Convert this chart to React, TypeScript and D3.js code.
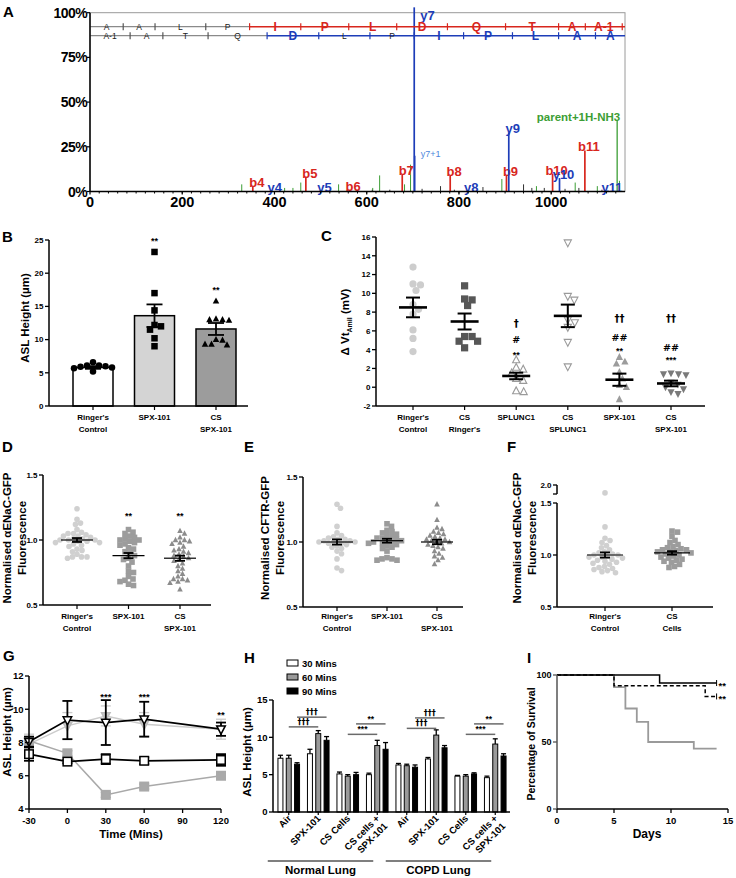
import React from "react";
import * as d3 from "d3";

const FONT = "'Liberation Sans', Arial, Helvetica, sans-serif";
const SYMFONT = "'DejaVu Sans', 'Liberation Sans', sans-serif";
const RED = "#d8261d";
const BLUE = "#1d3db8";
const GREEN = "#3c9e35";
const LBLUE = "#4d88dc";

// ---------------- Panel A data ----------------
const aXTicks = [0, 200, 400, 600, 800, 1000];
const aYTicks = [0, 25, 50, 75, 100];
const aBLabels = ["b4", "b5", "b6", "b7", "b8", "b9", "b10", "b11"];
const aBMz = [353, 468, 562, 677, 781, 903, 1003, 1073];
const aBInt = [3, 8.3, 1, 9.8, 9.2, 9.2, 10, 23];
const aYLabels = ["y4", "y5", "y7", "y8", "y9", "y10", "y11"];
const aYMz = [392, 500, 703, 818, 908, 1018, 1123];
const aYInt = [0.5, 0.5, 103, 0.5, 33, 7.5, 0.5];
const aNoteLabels = ["y7+1"];
const aNoteMz = [704];
const aNoteInt = [20];
const aParentLabels = ["parent+1H-NH3"];
const aParentMz = [1143];
const aParentInt = [40];
const aGreenMz = [329, 422, 440, 457, 539, 613, 628, 682, 695, 893, 968, 1052, 1100, 1148];
const aGreenInt = [4, 2, 2, 5, 4, 2, 9, 4, 15, 7, 3, 5, 3, 6];
const aDarkMz = [612, 650, 720, 760, 790, 852, 940, 958, 985, 1030, 1060, 1110];
const aDarkInt = [1, 1, 1.5, 3, 1, 2.5, 4, 2, 2, 1.5, 2, 1];
const aSeqTop = ["A", "A", "L", "P", "I", "P", "L", "D", "Q", "T", "A", "A-1"];
const aSeqTopBreaks = [72, 141, 251, 346, 457, 561, 665, 775, 901, 1016, 1074, 1154];
const aSeqTopMatched = [0, 0, 0, 0, 1, 1, 1, 1, 1, 1, 1, 1];
const aSeqBot = ["A-1", "A", "T", "Q", "D", "L", "P", "I", "P", "L", "A", "A"];
const aSeqBotBreaks = [87, 158, 256, 384, 496, 607, 703, 810, 916, 1016, 1096];
const aSeqBotMatched = [0, 0, 0, 0, 1, 0, 0, 1, 1, 1, 1, 1];

// ---------------- Panel B data ----------------
const bCats = ["Ringer's\nControl", "SPX-101", "CS\nSPX-101"];
const bMeans = [5.8, 13.6, 11.6];
const bSem = [0.2, 1.7, 0.9];
const bRinger = [6.6, 6.1, 6.0, 5.9, 5.8, 5.7, 5.2, 6.1];
const bSpx = [23.2, 17.0, 14.4, 12.0, 12.2, 11.5, 10.2, 9.0];
const bCsSpx = [15.8, 13.0, 13.1, 12.9, 13.0, 10.0, 9.3, 9.2, 9.3, 9.9];
const bYTicks = [0, 5, 10, 15, 20, 25];
const bStars = ["", "**", "**"];

// ---------------- Panel C data ----------------
const cCats = ["Ringer's\nControl", "CS\nRinger's", "SPLUNC1", "CS\nSPLUNC1", "SPX-101", "CS\nSPX-101"];
const cRinger = [12.8, 11.0, 10.9, 10.3, 8.8, 8.3, 7.8, 6.1, 5.2, 3.8];
const cCsRinger = [10.8, 9.4, 9.3, 8.7, 5.4, 5.4, 4.9, 4.9, 4.2];
const cSplunc = [2.9, 2.1, 1.9, 1.5, 0.9, 0.7, -0.4, -0.5];
const cCsSplunc = [15.4, 9.7, 9.3, 7.2, 6.9, 6.4, 4.8, 2.2];
const cSpx = [3.2, 2.7, 2.5, 1.6, 0.9, 0.2, 0.0, -1.3];
const cCsSpx = [1.5, 1.4, 1.4, 1.3, 0.5, 0.3, 0.0, -0.2, -0.5, -0.7];
const cMeans = [8.5, 7.0, 1.2, 7.6, 0.8, 0.4];
const cSem = [1.05, 0.85, 0.35, 1.2, 0.65, 0.3];
const cYTicks = [-2, 0, 2, 4, 6, 8, 10, 12, 14, 16];

// ---------------- Panels D/E/F data ----------------
const dCats = ["Ringer's\nControl", "SPX-101", "CS\nSPX-101"];
const dRinger = [1.24, 1.16, 1.13, 1.12, 1.08, 1.06, 1.05, 1.05, 1.04, 1.03, 1.03, 1.02, 1.01, 1.01, 1.0, 1.0, 1.0, 0.99, 0.99, 0.98, 0.98, 0.97, 0.96, 0.95, 0.93, 0.92, 0.91, 0.89, 0.87, 0.87, 0.87, 0.86];
const dSpx = [1.08, 1.06, 1.05, 1.03, 1.02, 1.01, 1.0, 1.0, 0.99, 0.98, 0.97, 0.96, 0.94, 0.93, 0.91, 0.9, 0.88, 0.86, 0.85, 0.83, 0.8, 0.76, 0.75, 0.72, 0.7, 0.69, 0.68, 0.66, 0.65];
const dCsSpx = [1.07, 1.05, 1.02, 1.0, 1.0, 0.99, 0.98, 0.97, 0.95, 0.93, 0.92, 0.91, 0.9, 0.89, 0.88, 0.87, 0.86, 0.85, 0.84, 0.82, 0.8, 0.78, 0.76, 0.74, 0.72, 0.7, 0.7, 0.69, 0.68, 0.67, 0.62];
const dMeans = [1.0, 0.88, 0.86];
const dSem = [0.015, 0.02, 0.02];
const dStars = ["", "**", "**"];

const eCats = ["Ringer's\nControl", "SPX-101", "CS\nSPX-101"];
const eRinger = [1.29, 1.26, 1.12, 1.07, 1.05, 1.04, 1.03, 1.02, 1.02, 1.01, 1.01, 1.0, 1.0, 1.0, 0.99, 0.99, 0.98, 0.97, 0.96, 0.95, 0.93, 0.91, 0.87, 0.8, 0.78];
const eSpx = [1.14, 1.12, 1.09, 1.08, 1.07, 1.06, 1.05, 1.04, 1.03, 1.03, 1.02, 1.01, 1.01, 1.0, 1.0, 0.99, 0.99, 0.98, 0.97, 0.96, 0.95, 0.93, 0.88, 0.87, 0.87, 0.86, 0.86];
const eCsSpx = [1.29, 1.17, 1.11, 1.1, 1.08, 1.07, 1.06, 1.05, 1.04, 1.03, 1.02, 1.02, 1.01, 1.0, 1.0, 0.99, 0.98, 0.97, 0.96, 0.95, 0.93, 0.91, 0.89, 0.88, 0.86, 0.83];
const eMeans = [1.0, 1.01, 1.0];
const eSem = [0.02, 0.015, 0.017];

const fCats = ["Ringer's\nControl", "CS\nCells"];
const fRinger = [1.65, 1.27, 1.16, 1.14, 1.12, 1.09, 1.07, 1.05, 1.03, 1.02, 1.01, 1.0, 1.0, 0.99, 0.98, 0.98, 0.97, 0.96, 0.95, 0.94, 0.93, 0.92, 0.91, 0.89, 0.88, 0.87, 0.86, 0.85, 0.84, 0.83];
const fCsCells = [1.23, 1.22, 1.18, 1.14, 1.12, 1.1, 1.08, 1.07, 1.06, 1.05, 1.05, 1.04, 1.03, 1.03, 1.02, 1.01, 1.0, 0.99, 0.98, 0.97, 0.96, 0.95, 0.94, 0.93, 0.91, 0.89, 0.88];
const fMeans = [1.0, 1.02];
const fSem = [0.025, 0.017];
const dYTicks = [0.5, 1.0, 1.5];

// ---------------- Panel G data ----------------
const gTimes = [-30, 0, 30, 60, 120];
const gXTicks = [-30, 0, 30, 60, 90, 120];
const gYTicks = [4, 6, 8, 10, 12];
const gSpxMean = [8.05, 9.35, 9.2, 9.4, 8.8];
const gSpxErr = [0.3, 1.15, 1.35, 1.05, 0.4];
const gCtrlMean = [7.3, 6.85, 7.0, 6.9, 6.95];
const gCtrlErr = [0.4, 0.1, 0.3, 0.2, 0.35];
const gCsSpxMean = [7.9, 9.0, 9.6, 9.1, 8.8];
const gCsSpxErr = [0.6, 0.8, 0.6, 0.7, 0.6];
const gCsMean = [8.1, 7.35, 4.85, 5.35, 6.0];
const gCsErr = [0.2, 0.15, 0.15, 0.15, 0.15];
const gStarTimes = [30, 60, 120];
const gStars = ["***", "***", "**"];

// ---------------- Panel H data ----------------
const hGroups = ["Air", "SPX-101", "CS Cells", "CS cells +\nSPX-101", "Air", "SPX-101", "CS Cells", "CS cells +\nSPX-101"];
const hSeries = ["30 Mins", "60 Mins", "90 Mins"];
const h30 = [7.2, 7.8, 5.1, 5.0, 6.3, 7.1, 4.8, 4.6];
const h30Err = [0.4, 0.6, 0.25, 0.2, 0.2, 0.2, 0.1, 0.2];
const h60 = [7.2, 10.5, 4.8, 8.9, 6.2, 10.3, 4.8, 9.1];
const h60Err = [0.4, 0.4, 0.2, 0.7, 0.2, 0.7, 0.2, 0.7];
const h90 = [6.4, 9.6, 5.0, 8.4, 6.0, 8.6, 5.1, 7.5];
const h90Err = [0.2, 0.5, 0.3, 0.9, 0.3, 0.3, 0.15, 0.3];
const hYTicks = [0, 5, 10, 15];
const hSigText = ["†††", "†††", "***", "**", "†††", "†††", "***", "**"];
const hSigFromGroup = [0, 0, 2, 2, 4, 4, 6, 6];
const hSigToGroup = [1, 1, 3, 3, 5, 5, 7, 7];
const hSigBar = [1, 2, 1, 2, 1, 2, 1, 2];
const hSigLevel = [11.4, 12.7, 10.4, 11.8, 11.2, 12.6, 10.4, 11.8];
const hLungs = ["Normal Lung", "COPD Lung"];

// ---------------- Panel I data ----------------
const iSolidDays = [0, 9, 14];
const iSolidPct = [100, 94, 94];
const iDashDays = [0, 5, 13, 14];
const iDashPct = [100, 92, 84, 84];
const iGrayDays = [0, 5, 6, 7, 8, 12, 14];
const iGrayPct = [100, 91, 75, 65, 50, 45, 45];
const iXTicks = [0, 5, 10, 15];
const iYTicks = [0, 50, 100];

// ---------------- helpers ----------------
function swarm(vals: number[], yf: (v: number) => number, cx: number, r: number) {
  const pts: { x: number; y: number }[] = [];
  const sorted = [...vals].sort((a, b) => b - a);
  const min2 = 2 * r * (2 * r) * 0.9;
  sorted.forEach((v) => {
    const y = yf(v);
    for (let k = 0; k < 600; k++) {
      const off = k === 0 ? 0 : (k % 2 === 1 ? 1 : -1) * Math.ceil(k / 2) * 0.5;
      const x = cx + off;
      if (pts.every((p) => (p.x - x) ** 2 + (p.y - y) ** 2 >= min2)) {
        pts.push({ x, y });
        break;
      }
    }
  });
  return pts;
}

function Marker({ shape, x, y, size, fill, stroke = "none", sw = 1 }: any) {
  if (shape === "circle") return <circle cx={x} cy={y} r={size / 2} fill={fill} stroke={stroke} strokeWidth={sw} />;
  if (shape === "square")
    return <rect x={x - size / 2} y={y - size / 2} width={size} height={size} fill={fill} stroke={stroke} strokeWidth={sw} />;
  const h = size * 0.95;
  const up = shape === "triUp";
  const pts = up
    ? `${x},${y - h * 0.6} ${x - size / 2},${y + h * 0.4} ${x + size / 2},${y + h * 0.4}`
    : `${x},${y + h * 0.6} ${x - size / 2},${y - h * 0.4} ${x + size / 2},${y - h * 0.4}`;
  return <polygon points={pts} fill={fill} stroke={stroke} strokeWidth={sw} strokeLinejoin="miter" />;
}

function ErrBar({ x, y1, y2, cap, sw = 1.5, color = "#000" }: any) {
  return (
    <g stroke={color} strokeWidth={sw}>
      <line x1={x} x2={x} y1={y1} y2={y2} />
      <line x1={x - cap} x2={x + cap} y1={y1} y2={y1} />
      <line x1={x - cap} x2={x + cap} y1={y2} y2={y2} />
    </g>
  );
}

function MLabel({ x, y, text, size = 8, lh = 11 }: any) {
  const lines = text.split("\n");
  return (
    <text x={x} y={y} textAnchor="middle" fontSize={size} fontWeight="bold">
      {lines.map((l: string, i: number) => (
        <tspan key={i} x={x} dy={i === 0 ? 0 : lh}>
          {l}
        </tspan>
      ))}
    </text>
  );
}

function VTitle({ x, y, lines, size = 11.5, lh = 14 }: any) {
  return (
    <text transform={`translate(${x},${y}) rotate(-90)`} textAnchor="middle" fontSize={size} fontWeight="bold">
      {lines.map((l: string, i: number) => (
        <tspan key={i} x={0} dy={i === 0 ? 0 : lh}>
          {l}
        </tspan>
      ))}
    </text>
  );
}

function YAxis({ x, scale, ticks, fmt, size = 8, tickLen = 4, from, to, stroke = "#000" }: any) {
  const d = scale.domain();
  const a = from ?? d[0];
  const b = to ?? d[1];
  return (
    <g>
      <line x1={x} x2={x} y1={scale(a)} y2={scale(b)} stroke={stroke} strokeWidth={1.5} />
      {ticks.map((t: number) => (
        <g key={t}>
          <line x1={x - tickLen} x2={x} y1={scale(t)} y2={scale(t)} stroke={stroke} strokeWidth={1.3} />
          <text x={x - tickLen - 1.5} y={scale(t) + size * 0.36} textAnchor="end" fontSize={size} fontWeight="bold">
            {fmt ? fmt(t) : t}
          </text>
        </g>
      ))}
    </g>
  );
}

// ---------------- Panel A ----------------
function PanelA() {
  const x = d3.scaleLinear().domain([0, 1160]).range([90, 625]);
  const y = d3.scaleLinear().domain([0, 100]).range([191.5, 12.7]);
  const minor = d3.range(20, 1160, 20);
  const rowTop = 26.7;
  const rowBot = 35.7;

  const seqRow = (letters: string[], breaks: number[], matched: number[], rowY: number, color: string, key: string) => {
    const firstIdx = matched.indexOf(1);
    const colorStart = breaks[firstIdx - 1];
    return (
      <g key={key}>
        <line x1={x(0)} x2={x(colorStart)} y1={rowY} y2={rowY} stroke="#8a8a8a" strokeWidth={1.3} />
        <line x1={x(colorStart)} x2={x(1160)} y1={rowY} y2={rowY} stroke={color} strokeWidth={1.5} />
        {breaks.map((b, i) => (
          <line key={i} x1={x(b)} x2={x(b)} y1={rowY - 3.5} y2={rowY + 3.5} stroke={b >= colorStart ? color : "#555"} strokeWidth={1.2} />
        ))}
        {letters.map((l, i) => {
          const lo = i === 0 ? 0 : breaks[i - 1];
          const hi = i < breaks.length ? breaks[i] : 1160;
          const m = matched[i] === 1;
          return (
            <text
              key={"t" + i}
              x={x((lo + hi) / 2)}
              y={rowY + (m ? 4.2 : 3.3)}
              textAnchor="middle"
              fontSize={m ? 12 : 8.5}
              fontWeight={m ? "bold" : "normal"}
              fill={m ? color : "#222"}
            >
              {l}
            </text>
          );
        })}
      </g>
    );
  };

  return (
    <g>
      <text x={3} y={17} fontSize={15} fontWeight="bold">A</text>
      <rect x={x(0)} y={y(100)} width={x(1160) - x(0)} height={y(0) - y(100)} fill="none" stroke="#9a9a9a" strokeWidth={1} />
      {aGreenMz.map((m, i) => (
        <line key={"g" + i} x1={x(m)} x2={x(m)} y1={y(0)} y2={y(aGreenInt[i])} stroke={GREEN} strokeWidth={1} />
      ))}
      {aDarkMz.map((m, i) => (
        <line key={"k" + i} x1={x(m)} x2={x(m)} y1={y(0)} y2={y(aDarkInt[i])} stroke="#333" strokeWidth={1} />
      ))}
      {aParentMz.map((m, i) => (
        <g key={"p" + i}>
          <line x1={x(m)} x2={x(m)} y1={y(0)} y2={y(aParentInt[i])} stroke={GREEN} strokeWidth={1.3} />
          <text x={x(m) + 3} y={y(aParentInt[i]) + 1} textAnchor="end" fontSize={11.5} fontWeight="bold" fill={GREEN}>
            {aParentLabels[i]}
          </text>
        </g>
      ))}
      {aNoteMz.map((m, i) => (
        <g key={"n" + i}>
          <line x1={x(m)} x2={x(m)} y1={y(0)} y2={y(aNoteInt[i])} stroke={BLUE} strokeWidth={1.6} />
          <text x={x(m) + 6} y={y(aNoteInt[i]) + 1} fontSize={9} fill={LBLUE}>
            {aNoteLabels[i]}
          </text>
        </g>
      ))}
      {aBMz.map((m, i) => (
        <g key={"b" + i}>
          <line x1={x(m)} x2={x(m)} y1={y(0)} y2={y(aBInt[i])} stroke={RED} strokeWidth={1.7} />
          <text x={x(m) + 4} y={y(aBInt[i]) + 1} textAnchor="middle" fontSize={13} fontWeight="bold" fill={RED}>
            {aBLabels[i]}
          </text>
        </g>
      ))}
      {aYMz.map((m, i) => {
        const big = aYInt[i] > 100;
        return (
          <g key={"y" + i}>
            <line x1={x(m)} x2={x(m)} y1={y(0)} y2={y(aYInt[i])} stroke={BLUE} strokeWidth={1.7} />
            <text
              x={big ? x(m) + 6 : x(m) + 4}
              y={big ? y(100) + 7 : y(aYInt[i]) + 1}
              textAnchor={big ? "start" : "middle"}
              fontSize={13}
              fontWeight="bold"
              fill={BLUE}
            >
              {aYLabels[i]}
            </text>
          </g>
        );
      })}
      {seqRow(aSeqTop, aSeqTopBreaks, aSeqTopMatched, rowTop, RED, "top")}
      {seqRow(aSeqBot, aSeqBotBreaks, aSeqBotMatched, rowBot, BLUE, "bot")}
      <line x1={x(0)} x2={x(1160)} y1={y(0)} y2={y(0)} stroke="#000" strokeWidth={1.5} />
      <line x1={x(0)} x2={x(0)} y1={y(0)} y2={y(100)} stroke="#000" strokeWidth={1.5} />
      {minor.map((m) => (
        <line key={"mt" + m} x1={x(m)} x2={x(m)} y1={y(0)} y2={y(0) + 2} stroke="#000" strokeWidth={1} />
      ))}
      {aXTicks.map((t) => (
        <g key={"xt" + t}>
          <line x1={x(t)} x2={x(t)} y1={y(0)} y2={y(0) + 3} stroke="#000" strokeWidth={1.2} />
          <text x={x(t)} y={207} textAnchor="middle" fontSize={14.5} fontWeight="bold">
            {t}
          </text>
        </g>
      ))}
      {aYTicks.map((t) => (
        <g key={"yt" + t}>
          <line x1={x(0) - 3} x2={x(0)} y1={y(t)} y2={y(t)} stroke="#000" strokeWidth={1.2} />
          <text x={x(0) - 3} y={y(t) + 5} textAnchor="end" fontSize={14} fontWeight="bold" letterSpacing={-0.6}>
            {t}%
          </text>
        </g>
      ))}
    </g>
  );
}

// ---------------- Panel B ----------------
function PanelB() {
  const x = d3.scalePoint<string>().domain(bCats).range([93, 216]);
  const y = d3.scaleLinear().domain([0, 25]).range([406, 240]);
  const fills = ["#ffffff", "#d4d4d4", "#9c9c9c"];
  const shapes = ["circle", "square", "triUp"];
  const groups = [bRinger, bSpx, bCsSpx];
  return (
    <g>
      <text x={2} y={242} fontSize={15} fontWeight="bold">B</text>
      {bCats.map((c, i) => (
        <rect key={"r" + i} x={x(c)! - 20} y={y(bMeans[i])} width={40} height={y(0) - y(bMeans[i])} fill={fills[i]} stroke="#000" strokeWidth={1.5} />
      ))}
      {bCats.map((c, i) => (
        <ErrBar key={"e" + i} x={x(c)!} y1={y(bMeans[i] - bSem[i])} y2={y(bMeans[i] + bSem[i])} cap={8} sw={1.8} />
      ))}
      {groups.map((vals, gi) =>
        swarm(vals, y, x(bCats[gi])!, 3.4).map((p, j) => (
          <Marker key={`p${gi}-${j}`} shape={shapes[gi]} x={p.x} y={p.y} size={6.5} fill="#000" />
        ))
      )}
      {bCats.map((c, i) =>
        bStars[i] ? (
          <text key={"s" + i} x={x(c)!} y={y(d3.max(groups[i])!) - 8} textAnchor="middle" fontSize={9} fontWeight="bold">
            {bStars[i]}
          </text>
        ) : null
      )}
      <YAxis x={49} scale={y} ticks={bYTicks} size={8} />
      <line x1={49} x2={248} y1={y(0)} y2={y(0)} stroke="#000" strokeWidth={1.5} />
      {bCats.map((c, i) => (
        <g key={"l" + i}>
          <line x1={x(c)!} x2={x(c)!} y1={y(0)} y2={y(0) + 4} stroke="#000" strokeWidth={1.2} />
          <MLabel x={x(c)!} y={420} text={c} size={8} lh={11.5} />
        </g>
      ))}
      <VTitle x={29} y={318} lines={["ASL Height (µm)"]} size={11.5} />
    </g>
  );
}

// ---------------- Panel C ----------------
function PanelC() {
  const x = d3.scalePoint<string>().domain(cCats).range([413, 671]);
  const y = d3.scaleLinear().domain([-2, 16]).range([406, 237]);
  const groups = [cRinger, cCsRinger, cSplunc, cCsSplunc, cSpx, cCsSpx];
  const shapes = ["circle", "square", "triUp", "triDown", "triUp", "triDown"];
  const fills = ["#cdcdcd", "#575757", "#ffffff", "#ffffff", "#9c9c9c", "#7a7a7a"];
  const strokes = ["none", "none", "#9a9a9a", "#9a9a9a", "none", "none"];
  const annX = [x(cCats[2])!, x(cCats[4])!, x(cCats[5])!];
  return (
    <g>
      <text x={321} y={241} fontSize={15} fontWeight="bold">C</text>
      {groups.map((vals, gi) =>
        swarm(vals, y, x(cCats[gi])!, 3.8).map((p, j) => (
          <Marker key={`c${gi}-${j}`} shape={shapes[gi]} x={p.x} y={p.y} size={7.2} fill={fills[gi]} stroke={strokes[gi]} sw={1.1} />
        ))
      )}
      {cCats.map((c, i) => (
        <g key={"m" + i}>
          <line x1={x(c)! - 14} x2={x(c)! + 14} y1={y(cMeans[i])} y2={y(cMeans[i])} stroke="#000" strokeWidth={2.6} />
          <ErrBar x={x(c)!} y1={y(cMeans[i] - cSem[i])} y2={y(cMeans[i] + cSem[i])} cap={7} sw={2} />
        </g>
      ))}
      <g fontSize={10} fontWeight="bold" textAnchor="middle" fill="#000">
        <text x={annX[0]} y={327} fontFamily={SYMFONT}>†</text>
        <text x={annX[0]} y={343} fontSize={9.5} fontFamily={SYMFONT}>#</text>
        <text x={annX[0]} y={358} fontSize={9}>**</text>
        <text x={annX[1]} y={322} fontFamily={SYMFONT}>††</text>
        <text x={annX[1]} y={341} fontSize={9.5} fontFamily={SYMFONT}>##</text>
        <text x={annX[1]} y={354} fontSize={9}>**</text>
        <text x={annX[2]} y={322} fontFamily={SYMFONT}>††</text>
        <text x={annX[2]} y={351} fontSize={9.5} fontFamily={SYMFONT}>##</text>
        <text x={annX[2]} y={363} fontSize={9}>***</text>
      </g>
      <YAxis x={376} scale={y} ticks={cYTicks} size={8} />
      <line x1={376} x2={705} y1={y(-2)} y2={y(-2)} stroke="#000" strokeWidth={1.5} />
      {cCats.map((c, i) => (
        <g key={"l" + i}>
          <line x1={x(c)!} x2={x(c)!} y1={y(-2)} y2={y(-2) + 4} stroke="#000" strokeWidth={1.2} />
          <MLabel x={x(c)!} y={420} text={c} size={8} lh={11.5} />
        </g>
      ))}
      <text transform="translate(349,322) rotate(-90)" textAnchor="middle" fontSize={11.5} fontWeight="bold">
        <tspan>Δ Vt</tspan>
        <tspan fontSize={7} dy={3}>Amil</tspan>
        <tspan dy={-3}> (mV)</tspan>
      </text>
    </g>
  );
}

// ---------------- Dot panels D/E/F ----------------
function DotPanel(props: any) {
  const { letter, letterX, cats, groups, shapes, fills, means, sems, xr, axisX, xEnd, y0, y1, title, titleX, stars, brk, lineHalf } = props;
  const x = d3.scalePoint<string>().domain(cats).range(xr);
  const y = d3.scaleLinear().domain([0.5, 1.5]).range([y0, y1]);
  const yu = d3.scaleLinear().domain([1.6, 2.0]).range([y1 - 9, y1 - 18]);
  const yf = (v: number) => (brk && v > 1.55 ? yu(v) : y(v));
  return (
    <g>
      <text x={letterX} y={452} fontSize={15} fontWeight="bold">{letter}</text>
      {groups.map((vals: number[], gi: number) =>
        swarm(vals, yf, x(cats[gi])!, 2.7).map((p, j) => (
          <Marker key={`d${gi}-${j}`} shape={shapes[gi]} x={p.x} y={p.y} size={5.6} fill={fills[gi]} />
        ))
      )}
      {cats.map((c: string, i: number) => (
        <g key={"m" + i}>
          <line x1={x(c)! - lineHalf} x2={x(c)! + lineHalf} y1={y(means[i])} y2={y(means[i])} stroke="#000" strokeWidth={1.2} />
          <ErrBar x={x(c)!} y1={y(means[i] - sems[i])} y2={y(means[i] + sems[i])} cap={5} sw={1.8} />
        </g>
      ))}
      {stars &&
        cats.map((c: string, i: number) =>
          stars[i] ? (
            <text key={"s" + i} x={x(c)!} y={519} textAnchor="middle" fontSize={9} fontWeight="bold">
              {stars[i]}
            </text>
          ) : null
        )}
      <YAxis x={axisX} scale={y} ticks={dYTicks} size={8} fmt={(t: number) => t.toFixed(1)} />
      {brk && (
        <g stroke="#000">
          <line x1={axisX} x2={axisX} y1={yu(2.0)} y2={yu(1.6)} strokeWidth={1.5} />
          <line x1={axisX - 4} x2={axisX} y1={yu(2.0)} y2={yu(2.0)} strokeWidth={1.3} />
          <line x1={axisX - 4} x2={axisX} y1={yu(1.6)} y2={yu(1.6)} strokeWidth={1.3} />
          <text x={axisX - 5.5} y={yu(2.0) + 2.9} textAnchor="end" fontSize={8} fontWeight="bold" stroke="none">
            2.0
          </text>
        </g>
      )}
      <line x1={axisX} x2={xEnd} y1={y0} y2={y0} stroke="#000" strokeWidth={1.5} />
      {cats.map((c: string, i: number) => (
        <g key={"l" + i}>
          <line x1={x(c)!} x2={x(c)!} y1={y0} y2={y0 + 4} stroke="#000" strokeWidth={1.2} />
          <MLabel x={x(c)!} y={619} text={c} size={8} lh={11.5} />
        </g>
      ))}
      <VTitle x={titleX} y={538} lines={title} size={11.5} lh={14.5} />
    </g>
  );
}

// ---------------- Panel G ----------------
function PanelG() {
  const x = d3.scaleLinear().domain([-30, 120]).range([29, 221]);
  const y = d3.scaleLinear().domain([4, 12]).range([809, 676]);
  const line = d3
    .line<number>()
    .x((_, i) => x(gTimes[i]))
    .y((v) => y(v));
  const series = [
    { m: gCsSpxMean, e: gCsSpxErr, color: "#cbcbcb", shape: "triDown", fill: "#cbcbcb", stroke: "#bdbdbd", lw: 1.5 },
    { m: gCsMean, e: gCsErr, color: "#a9a9a9", shape: "square", fill: "#a9a9a9", stroke: "#a9a9a9", lw: 1.5 },
    { m: gCtrlMean, e: gCtrlErr, color: "#000", shape: "square", fill: "#fff", stroke: "#000", lw: 1.8 },
    { m: gSpxMean, e: gSpxErr, color: "#000", shape: "triDown", fill: "#fff", stroke: "#000", lw: 1.8 },
  ];
  return (
    <g>
      <text x={3} y={661} fontSize={15} fontWeight="bold">G</text>
      {series.map((s, si) => (
        <g key={"s" + si}>
          <path d={line(s.m)!} fill="none" stroke={s.color} strokeWidth={s.lw} />
          {s.m.map((v, i) => (
            <ErrBar key={"e" + i} x={x(gTimes[i])} y1={y(v - s.e[i])} y2={y(v + s.e[i])} cap={5} sw={si >= 2 ? 1.8 : 1.3} color={s.color} />
          ))}
          {s.m.map((v, i) => (
            <Marker key={"m" + i} shape={s.shape} x={x(gTimes[i])} y={y(v)} size={8.5} fill={s.fill} stroke={s.stroke} sw={1.5} />
          ))}
        </g>
      ))}
      {gStarTimes.map((t, i) => (
        <text key={"st" + i} x={x(t)} y={i === 2 ? 718 : 700} textAnchor="middle" fontSize={9.5} fontWeight="bold">
          {gStars[i]}
        </text>
      ))}
      <YAxis x={29} scale={y} ticks={gYTicks} size={9.5} />
      <line x1={29} x2={221} y1={y(4)} y2={y(4)} stroke="#000" strokeWidth={1.5} />
      {gXTicks.map((t) => (
        <g key={"xt" + t}>
          <line x1={x(t)} x2={x(t)} y1={y(4)} y2={y(4) + 4} stroke="#000" strokeWidth={1.3} />
          <text x={x(t)} y={824} textAnchor="middle" fontSize={9.5} fontWeight="bold">
            {t}
          </text>
        </g>
      ))}
      <text x={131} y={838} textAnchor="middle" fontSize={11.5} fontWeight="bold">Time (Mins)</text>
      <VTitle x={10.5} y={732} lines={["ASL Height (µm)"]} size={11.5} />
    </g>
  );
}

// ---------------- Panel H ----------------
function PanelH() {
  const x = d3.scaleBand<number>().domain(d3.range(hGroups.length)).range([274, 510]);
  const sub = d3.scaleBand<number>().domain([0, 1, 2]).range([-10.8, 10.8]).paddingInner(0.4);
  const y = d3.scaleLinear().domain([0, 15]).range([812, 700]);
  const vals = [h30, h60, h90];
  const errs = [h30Err, h60Err, h90Err];
  const fills = ["#ffffff", "#9a9a9a", "#000000"];
  const cx = (g: number) => x(g)! + x.bandwidth() / 2;
  const bx = (g: number, j: number) => cx(g) + sub(j)! + sub.bandwidth() / 2;
  return (
    <g>
      <text x={244} y={663} fontSize={15} fontWeight="bold">H</text>
      {hSeries.map((s, i) => (
        <g key={"lg" + i}>
          <rect x={287} y={660 + i * 14} width={11} height={6} fill={fills[i]} stroke="#000" strokeWidth={1} />
          <text x={302} y={666.5 + i * 14} fontSize={9.5} fontWeight="bold">
            {s}
          </text>
        </g>
      ))}
      {vals.map((arr, j) =>
        arr.map((v, g) => (
          <g key={`b${j}-${g}`}>
            <line x1={bx(g, j)} x2={bx(g, j)} y1={y(v)} y2={y(v + errs[j][g])} stroke="#000" strokeWidth={1.3} />
            <line x1={bx(g, j) - 2.5} x2={bx(g, j) + 2.5} y1={y(v + errs[j][g])} y2={y(v + errs[j][g])} stroke="#000" strokeWidth={1.3} />
            <rect x={bx(g, j) - sub.bandwidth() / 2} y={y(v)} width={sub.bandwidth()} height={y(0) - y(v)} fill={fills[j]} stroke="#000" strokeWidth={1} />
          </g>
        ))
      )}
      {hSigText.map((t, i) => {
        const x1 = bx(hSigFromGroup[i], hSigBar[i] === 2 ? 2 : 1);
        const x2 = bx(hSigToGroup[i], hSigBar[i] === 2 ? 2 : 1);
        const yy = y(hSigLevel[i]);
        const dag = t.indexOf("†") >= 0;
        return (
          <g key={"sig" + i}>
            <line x1={x1} x2={x2} y1={yy} y2={yy} stroke="#6a6a6a" strokeWidth={1.5} />
            <text
              x={(x1 + x2) / 2}
              y={yy - 2}
              textAnchor="middle"
              fontSize={dag ? 8 : 8.5}
              fontWeight="bold"
              fill="#000"
              fontFamily={dag ? SYMFONT : FONT}
            >
              {t}
            </text>
          </g>
        );
      })}
      <YAxis x={273} scale={y} ticks={hYTicks} size={9.5} />
      <line x1={273} x2={510} y1={y(0)} y2={y(0)} stroke="#000" strokeWidth={1.5} />
      {hGroups.map((gname, g) => {
        const lines = gname.split("\n");
        return (
          <g key={"gl" + g}>
            <line x1={cx(g)} x2={cx(g)} y1={y(0)} y2={y(0) + 3} stroke="#000" strokeWidth={1.2} />
            <text transform={`translate(${cx(g) + 3},${y(0) + 7}) rotate(-45)`} textAnchor="end" fontSize={9.5} fontWeight="bold">
              {lines.map((l, k) => (
                <tspan key={k} x={0} dy={k === 0 ? 0 : 11}>
                  {l}
                </tspan>
              ))}
            </text>
          </g>
        );
      })}
      {hLungs.map((l, k) => {
        const a = cx(k * 4) - 21;
        const b = cx(k * 4 + 3) - 4;
        return (
          <g key={"lung" + k}>
            <line x1={a} x2={b} y1={861} y2={861} stroke="#555" strokeWidth={1.5} />
            <text x={(a + b) / 2} y={874} textAnchor="middle" fontSize={11.5} fontWeight="bold">
              {l}
            </text>
          </g>
        );
      })}
      <VTitle x={251} y={752} lines={["ASL Height (µm)"]} size={11.5} />
    </g>
  );
}

// ---------------- Panel I ----------------
function PanelI() {
  const x = d3.scaleLinear().domain([0, 15]).range([557, 728]);
  const y = d3.scaleLinear().domain([0, 100]).range([809, 675]);
  const mk = (days: number[], pct: number[]) =>
    d3
      .line<number>()
      .x((d) => x(d))
      .y((_, i) => y(pct[i]))
      .curve(d3.curveStepAfter)(days)!;
  return (
    <g>
      <text x={527} y={663} fontSize={15} fontWeight="bold">I</text>
      <path d={mk(iGrayDays, iGrayPct)} fill="none" stroke="#9a9a9a" strokeWidth={1.8} />
      <path d={mk(iDashDays, iDashPct)} fill="none" stroke="#000" strokeWidth={1.5} strokeDasharray="4,2.5" />
      <path d={mk(iSolidDays, iSolidPct)} fill="none" stroke="#000" strokeWidth={1.5} />
      <line x1={x(14)} x2={x(14)} y1={y(94) - 3} y2={y(94) + 3} stroke="#000" strokeWidth={1} />
      <line x1={x(14)} x2={x(14)} y1={y(84) - 3} y2={y(84) + 3} stroke="#000" strokeWidth={1} />
      <text x={x(14) + 2} y={y(94) + 6} fontSize={9.5} fontWeight="bold">**</text>
      <text x={x(14) + 2} y={y(84) + 6} fontSize={9.5} fontWeight="bold">**</text>
      <YAxis x={557} scale={y} ticks={iYTicks} size={9} stroke="#555" />
      <line x1={557} x2={728} y1={y(0)} y2={y(0)} stroke="#000" strokeWidth={1.6} />
      {iXTicks.map((t) => (
        <g key={"xt" + t}>
          <line x1={x(t)} x2={x(t)} y1={y(0)} y2={y(0) + 4} stroke="#000" strokeWidth={1.3} />
          <text x={x(t)} y={824} textAnchor="middle" fontSize={9.5} fontWeight="bold">
            {t}
          </text>
        </g>
      ))}
      <text x={647} y={838} textAnchor="middle" fontSize={12} fontWeight="bold">Days</text>
      <VTitle x={535} y={744} lines={["Percentage of Survival"]} size={10.5} />
    </g>
  );
}

export default function App() {
  return (
    <svg
      width={736}
      height={878}
      viewBox="0 0 736 878"
      style={{ position: "absolute", left: 0, top: 0, background: "#fff" }}
      fontFamily={FONT}
    >
      <rect x={0} y={0} width={736} height={878} fill="#fff" />
      <PanelA />
      <PanelB />
      <PanelC />
      <DotPanel
        letter="D"
        letterX={2}
        cats={dCats}
        groups={[dRinger, dSpx, dCsSpx]}
        shapes={["circle", "square", "triUp"]}
        fills={["#d0d0d0", "#9c9c9c", "#8c8c8c"]}
        means={dMeans}
        sems={dSem}
        xr={[77, 180]}
        axisX={43}
        xEnd={211}
        y0={605}
        y1={475}
        title={["Normalised αENaC-GFP", "Fluorescence"]}
        titleX={11}
        stars={dStars}
        lineHalf={16}
      />
      <DotPanel
        letter="E"
        letterX={244}
        cats={eCats}
        groups={[eRinger, eSpx, eCsSpx]}
        shapes={["circle", "square", "triUp"]}
        fills={["#d0d0d0", "#9c9c9c", "#8c8c8c"]}
        means={eMeans}
        sems={eSem}
        xr={[337, 437]}
        axisX={303}
        xEnd={463}
        y0={607}
        y1={477}
        title={["Normalised CFTR-GFP", "Fluorescence"]}
        titleX={269}
        lineHalf={16}
      />
      <DotPanel
        letter="F"
        letterX={507}
        cats={fCats}
        groups={[fRinger, fCsCells]}
        shapes={["circle", "square"]}
        fills={["#d0d0d0", "#9c9c9c"]}
        means={fMeans}
        sems={fSem}
        xr={[605, 672]}
        axisX={557}
        xEnd={713}
        y0={607}
        y1={503}
        title={["Normalised αENaC-GFP", "Fluorescence"]}
        titleX={521}
        brk={true}
        lineHalf={18}
      />
      <PanelG />
      <PanelH />
      <PanelI />
    </svg>
  );
}
